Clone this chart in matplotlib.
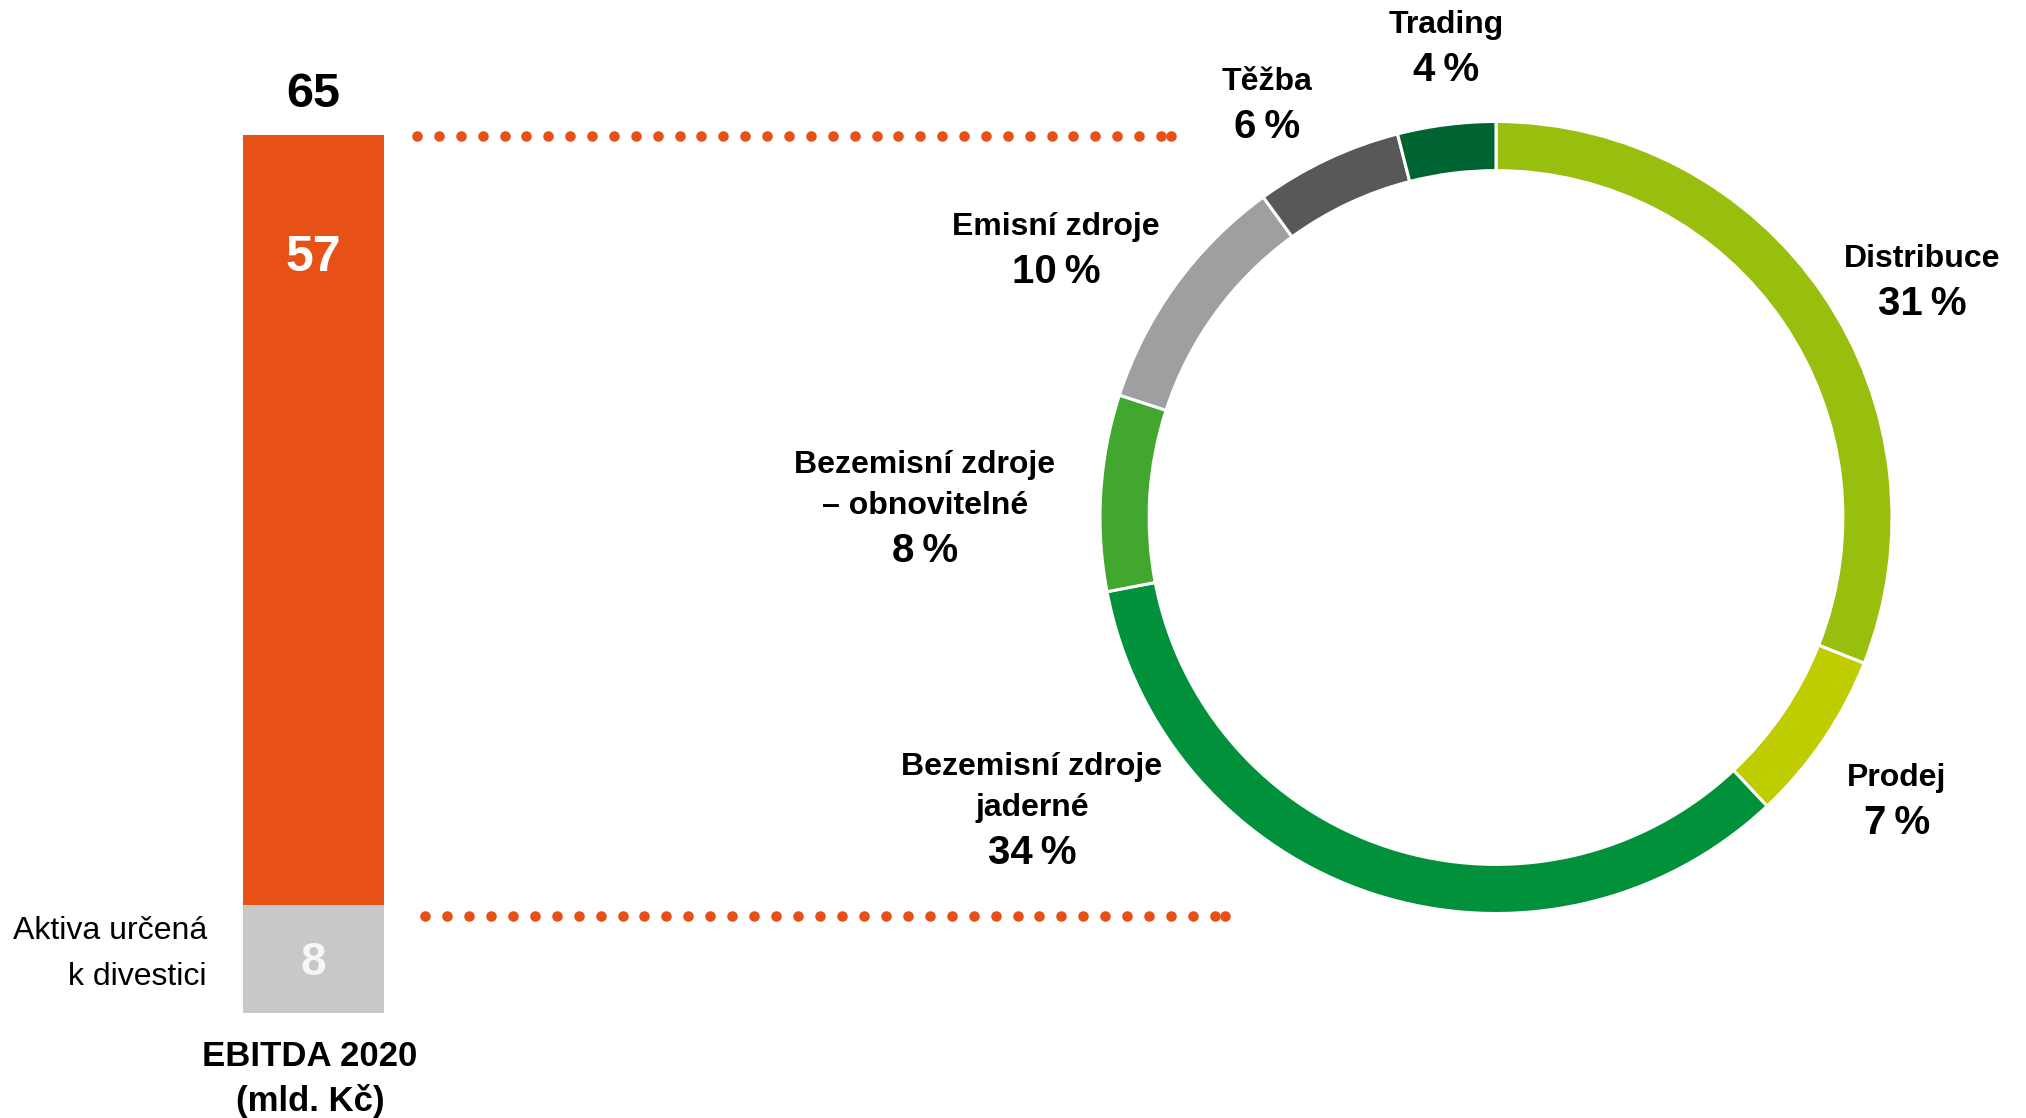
import matplotlib
matplotlib.use("Agg")
import matplotlib.pyplot as plt
import numpy as np

plt.rcParams["font.family"] = ["Liberation Sans", "DejaVu Sans"]

# bar data (mld. Kč)
bar_total = 65
bar_core = 57
bar_divest = 8
bar_colors = ["#c8c8c7", "#e85115"]

# donut data (share of core EBITDA, %)
seg_names = ["Distribuce", "Prodej", "Bezemisní zdroje\njaderné", "Bezemisní zdroje\n– obnovitelné",
             "Emisní zdroje", "Těžba", "Trading"]
seg_values = [31, 7, 34, 8, 10, 6, 4]
seg_colors = ["#98bf0e", "#bfcd00", "#00913a", "#42a72e", "#9e9fa0", "#58585a", "#006432"]

# label anchor (pixels, top-left origin) for each segment
label_pos = [(1922, 259), (1897, 778), (1032, 767), (925, 465), (1056, 227), (1267, 82), (1446, 25)]

W, H = 2026, 1118
fig = plt.figure(figsize=(W / 100, H / 100), dpi=100)
fig.patch.set_facecolor("white")

# overlay in pixel coordinates for annotations
ov = fig.add_axes([0, 0, 1, 1])
ov.set_xlim(0, W)
ov.set_ylim(H, 0)
ov.axis("off")

# stacked bar
bar_left, bar_right, bar_top, bar_bottom = 243, 384, 135, 1013
axb = fig.add_axes([bar_left / W, (H - bar_bottom) / H, (bar_right - bar_left) / W, (bar_bottom - bar_top) / H])
axb.bar([0], [bar_divest], width=1.0, color=bar_colors[0], edgecolor="none")
axb.bar([0], [bar_core], width=1.0, bottom=[bar_divest], color=bar_colors[1], edgecolor="none")
axb.set_xlim(-0.5, 0.5)
axb.set_ylim(0, bar_total)
axb.axis("off")

axb.text(0, bar_total + 3.0, f"{bar_total}", ha="center", va="center", fontsize=35, fontweight="bold",
         color="black", clip_on=False)
axb.text(0, bar_total - 9.1, f"{bar_core}", ha="center", va="center", fontsize=36, fontweight="bold",
         color="white")
axb.text(0, bar_divest / 2 - 0.3, f"{bar_divest}", ha="center", va="center", fontsize=33, fontweight="bold",
         color="#f6f6f6")

ov.text(207, 931, "Aktiva určená", ha="right", va="center", fontsize=23, color="black")
ov.text(207, 977, "k divestici", ha="right", va="center", fontsize=23, color="black")
ov.text(310, 1057, "EBITDA 2020", ha="center", va="center", fontsize=25, fontweight="bold")
ov.text(310, 1101, "(mld. Kč)", ha="center", va="center", fontsize=25, fontweight="bold")

# dotted connectors
for x0, x1, y in [(417, 1171, 136), (425, 1225, 916)]:
    n = int(round((x1 - x0) / 21.5))
    xs = np.append(np.linspace(x0, x1 - 10, n), x1)
    ov.plot(xs, np.full_like(xs, y), "o", color="#e85115", ms=7.6, mew=0)

# donut
cx, cy, R = 1496, 517.5, 396
axp = fig.add_axes([(cx - R) / W, (H - cy - R) / H, 2 * R / W, 2 * R / H])
axp.pie(seg_values, colors=seg_colors, startangle=90, counterclock=False, radius=1,
        wedgeprops=dict(width=0.124, edgecolor="white", linewidth=2.2))
axp.set_xlim(-1, 1)
axp.set_ylim(-1, 1)
axp.set_aspect("equal")
axp.axis("off")

for name, val, (lx, ly) in zip(seg_names, seg_values, label_pos):
    lines = name.split("\n")
    y = ly
    for ln in lines:
        ov.text(lx, y, ln, ha="center", va="center", fontsize=23, fontweight="bold")
        y += 41
    y += 4
    ov.text(lx, y, f"{val}\u2009%", ha="center", va="center", fontsize=29, fontweight="bold")

fig.savefig("out.png", dpi=100, facecolor="white")
